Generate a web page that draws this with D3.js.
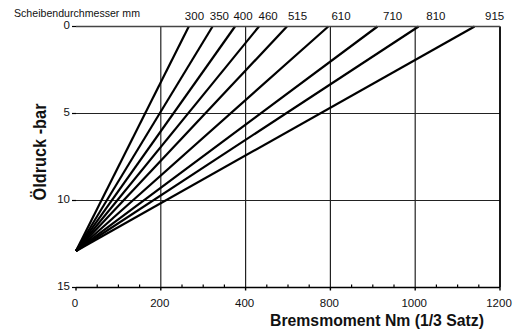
<!DOCTYPE html>
<html><head><meta charset="utf-8">
<script src="https://cdn.jsdelivr.net/npm/d3@7"></script>
<style>
body{margin:0;background:#fff}
svg{display:block}
text{font-family:"Liberation Sans",Arial,Helvetica,sans-serif;fill:#111}
</style>
</head><body>
<svg id="c" width="516" height="336"></svg>
<script>
// ---- data ----
const xTickLabels = [0, 200, 400, 800, 1000, 1200];
const yTicks = [0, 5, 10, 15];
const discDiameters = ["300", "350", "400", "460", "515", "610", "710", "810", "915"];
const torqueAtZeroPressure = [266, 322, 375, 463, 595, 790, 911, 1008, 1140];
const pressureAtZeroTorque = 12.9;
const xTitle = "Bremsmoment Nm (1/3 Satz)";
const yTitle = "Öldruck -bar";
const legendTitle = "Scheibendurchmesser mm";

// ---- layout ----
const svg = d3.select("#c");
const L = 76, R = 500, T = 26.5, B = 287.5;
const step = (R - L) / (xTickLabels.length - 1);
const x = d3.scaleLinear().domain(xTickLabels).range(xTickLabels.map((d, i) => L + i * step));
const y = d3.scaleLinear().domain([0, 15]).range([T, B]);

// grid
const g = svg.append("g");
g.selectAll("line.vg").data(xTickLabels.slice(1)).join("line")
  .attr("x1", d => x(d)).attr("x2", d => x(d)).attr("y1", T).attr("y2", B)
  .attr("stroke", "#222").attr("stroke-width", 1.2);
g.selectAll("line.hg").data(yTicks.slice(0, -1)).join("line")
  .attr("x1", L).attr("x2", R).attr("y1", d => y(d)).attr("y2", d => y(d))
  .attr("stroke", "#222").attr("stroke-width", 1.2);

// data lines
const lines = discDiameters.map((name, i) => ({name, x0: torqueAtZeroPressure[i]}));
svg.append("g").selectAll("line").data(lines).join("line")
  .attr("x1", x(0)).attr("y1", y(pressureAtZeroTorque))
  .attr("x2", d => x(d.x0)).attr("y2", y(0))
  .attr("stroke", "#000").attr("stroke-width", 2.2).attr("stroke-linecap", "butt");

// diameter labels, placed on the extension of each line above the plot
const labelY = -0.65;
svg.append("g").selectAll("text").data(lines).join("text")
  .attr("x", d => {
    const px0 = x(0), px1 = x(d.x0);
    const t = (y(labelY) - y(pressureAtZeroTorque)) / (y(0) - y(pressureAtZeroTorque));
    return px0 + (px1 - px0) * t;
  })
  .attr("y", 20)
  .attr("text-anchor", "middle").attr("font-size", 11.5)
  .text(d => d.name);

svg.append("text").attr("x", 14).attr("y", 17).attr("font-size", 11)
  .attr("textLength", 126).attr("lengthAdjust", "spacingAndGlyphs").text(legendTitle);

// x axis
const ax = svg.append("g");
ax.append("line").attr("x1", L).attr("x2", R).attr("y1", B).attr("y2", B).attr("stroke", "#000").attr("stroke-width", 1.6);
ax.selectAll("line.mj").data(xTickLabels).join("line")
  .attr("x1", d => x(d)).attr("x2", d => x(d)).attr("y1", B).attr("y2", B + 3)
  .attr("stroke", "#000").attr("stroke-width", 1.4);
const minor = [];
for (let i = 0; i < xTickLabels.length - 1; i++)
  for (let k = 1; k < 4; k++) minor.push(x(xTickLabels[i]) + k * step / 4);
ax.selectAll("line.mn").data(minor).join("line")
  .attr("x1", d => d).attr("x2", d => d).attr("y1", B).attr("y2", B - 3)
  .attr("stroke", "#000").attr("stroke-width", 1.2);
ax.selectAll("text").data(xTickLabels).join("text")
  .attr("x", d => x(d) - 1).attr("y", 307).attr("text-anchor", "middle").attr("font-size", 11.5)
  .text(d => d);
svg.append("text").attr("x", 484).attr("y", 326).attr("text-anchor", "end")
  .attr("font-size", 17).attr("font-weight", "bold")
  .attr("textLength", 214).attr("lengthAdjust", "spacingAndGlyphs").text(xTitle);

// y axis
const ay = svg.append("g");
ay.append("line").attr("x1", L).attr("x2", L).attr("y1", T).attr("y2", B).attr("stroke", "#000").attr("stroke-width", 1.6);
ay.selectAll("line").data(yTicks).join("line")
  .attr("x1", L - 4).attr("x2", L).attr("y1", d => y(d)).attr("y2", d => y(d))
  .attr("stroke", "#000").attr("stroke-width", 1.2);
ay.selectAll("text").data(yTicks).join("text")
  .attr("x", L - 6).attr("y", d => y(d) + 2).attr("text-anchor", "end").attr("font-size", 11.5)
  .text(d => d);
svg.append("text").attr("transform", "translate(46,152) rotate(-90)")
  .attr("text-anchor", "middle").attr("font-size", 18).attr("font-weight", "bold")
  .attr("textLength", 97).attr("lengthAdjust", "spacingAndGlyphs").text(yTitle);

// top & right border
svg.append("line").attr("x1", R).attr("x2", R).attr("y1", T).attr("y2", B).attr("stroke", "#000").attr("stroke-width", 1.6);
svg.append("line").attr("x1", L).attr("x2", R).attr("y1", T).attr("y2", T).attr("stroke", "#444").attr("stroke-width", 1.4);
</script>
</body></html>
